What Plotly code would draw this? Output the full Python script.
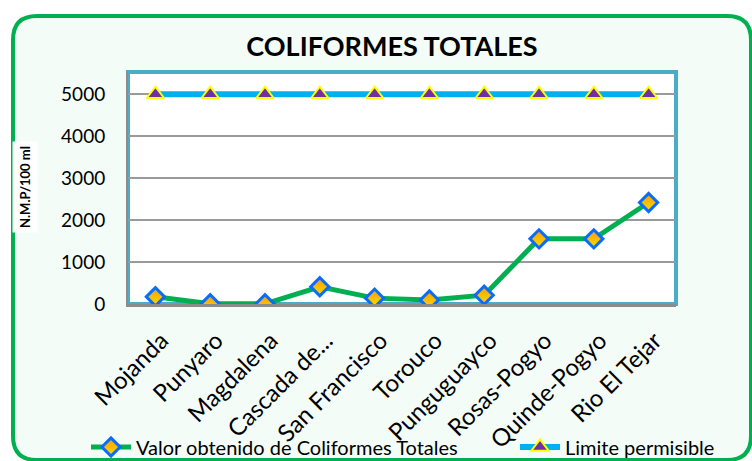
import plotly.graph_objects as go

categories = ["Mojanda", "Punyaro", "Magdalena", "Cascada de...", "San Francisco",
              "Torouco", "Punguguayco", "Rosas-Pogyo", "Quinde-Pogyo", "Rio El Tejar"]
coliformes = [172, 5, 5, 410, 140, 95, 210, 1553, 1553, 2420]
limite = [5000] * 10
y_ticks = [0, 1000, 2000, 3000, 4000, 5000]

W, H = 752, 461
L, R, T, B = 128, 76, 72, 157
pw, ph = W - L - R, H - T - B
FONT = "Lato"

def px(x):
    return (x - L) / pw

def py(y):
    return (H - B - y) / ph

fig = go.Figure()
fig.add_trace(go.Scatter(
    x=categories, y=coliformes, mode="lines+markers",
    name="Valor obtenido de Coliformes Totales", legend="legend",
    line=dict(color="#00B050", width=5),
    marker=dict(symbol="diamond", size=14, color="#FF9A00",
                gradient=dict(type="vertical", color="#F2E000"),
                line=dict(color="#0A6CFF", width=3)),
))
fig.add_trace(go.Scatter(
    x=categories, y=limite, mode="lines+markers",
    name="Limite permisible", legend="legend2",
    line=dict(color="#00B0F0", width=6),
    marker=dict(symbol="triangle-up", size=15, color="#7030A0",
                line=dict(color="#FFFF00", width=2)),
))

# outer rounded green border
x0, y0, x1, y1, r = 13, 16, 751, 460, 24
path = (f"M {px(x0+r)},{py(y0)} L {px(x1-r)},{py(y0)} "
        f"Q {px(x1)},{py(y0)} {px(x1)},{py(y0+r)} L {px(x1)},{py(y1-r)} "
        f"Q {px(x1)},{py(y1)} {px(x1-r)},{py(y1)} L {px(x0+r)},{py(y1)} "
        f"Q {px(x0)},{py(y1)} {px(x0)},{py(y1-r)} L {px(x0)},{py(y0+r)} "
        f"Q {px(x0)},{py(y0)} {px(x0+r)},{py(y0)} Z")
shapes = [
    dict(type="path", path=path, xref="paper", yref="paper", layer="below",
         fillcolor="#F3FCF7", line=dict(color="#00B050", width=4)),
    dict(type="rect", xref="paper", yref="paper", x0=0, x1=1, y0=0, y1=1,
         layer="below", fillcolor="white", line=dict(color="#4BACC6", width=4)),
]

leg_common = dict(orientation="h", xref="container", yref="container",
                  xanchor="left", y=1 - 447 / H, yanchor="middle",
                  font=dict(size=20, family=FONT), bgcolor="rgba(0,0,0,0)",
                  itemwidth=40)

fig.update_layout(
    width=W, height=H,
    margin=dict(l=L, r=R, t=T, b=B, autoexpand=False),
    paper_bgcolor="white", plot_bgcolor="rgba(0,0,0,0)",
    font=dict(family=FONT, color="black"),
    title=dict(text="<b>COLIFORMES TOTALES</b>", font=dict(size=27, family=FONT),
               x=px(392), xref="paper", xanchor="center",
               y=1 - 47 / H, yanchor="middle"),
    shapes=shapes,
    showlegend=True,
    legend=dict(x=86 / W, **leg_common),
    legend2=dict(x=515 / W, **leg_common),
    annotations=[dict(text="<b>N.M.P/100 ml</b>", textangle=-90, xref="paper", yref="paper",
                      x=px(25), y=py(187), xanchor="center", yanchor="middle",
                      showarrow=False, bgcolor="white",
                      font=dict(size=13, family=FONT), borderpad=4)],
)
fig.update_xaxes(type="category", tickangle=-45, tickfont=dict(size=24, family=FONT),
                 showgrid=False, showline=True, linecolor="#8C8C8C", linewidth=3,
                 ticks="outside", ticklen=10, tickcolor="rgba(0,0,0,0)",
                 ticklabelshift=6,
                 range=[-0.5, 9.5], automargin=False)
fig.update_yaxes(range=[0, 5530], tickvals=y_ticks, tickfont=dict(size=19, family=FONT),
                 showgrid=True, gridcolor="#9A9A9A", gridwidth=1.5,
                 showline=True, linecolor="#8C8C8C", linewidth=2, zeroline=False,
                 ticks="outside", ticklen=17, tickcolor="rgba(0,0,0,0)", automargin=False)

fig.write_html("out.html", config={"displayModeBar": False},
               post_script="document.body.style.margin='0';document.body.style.overflow='hidden';")
